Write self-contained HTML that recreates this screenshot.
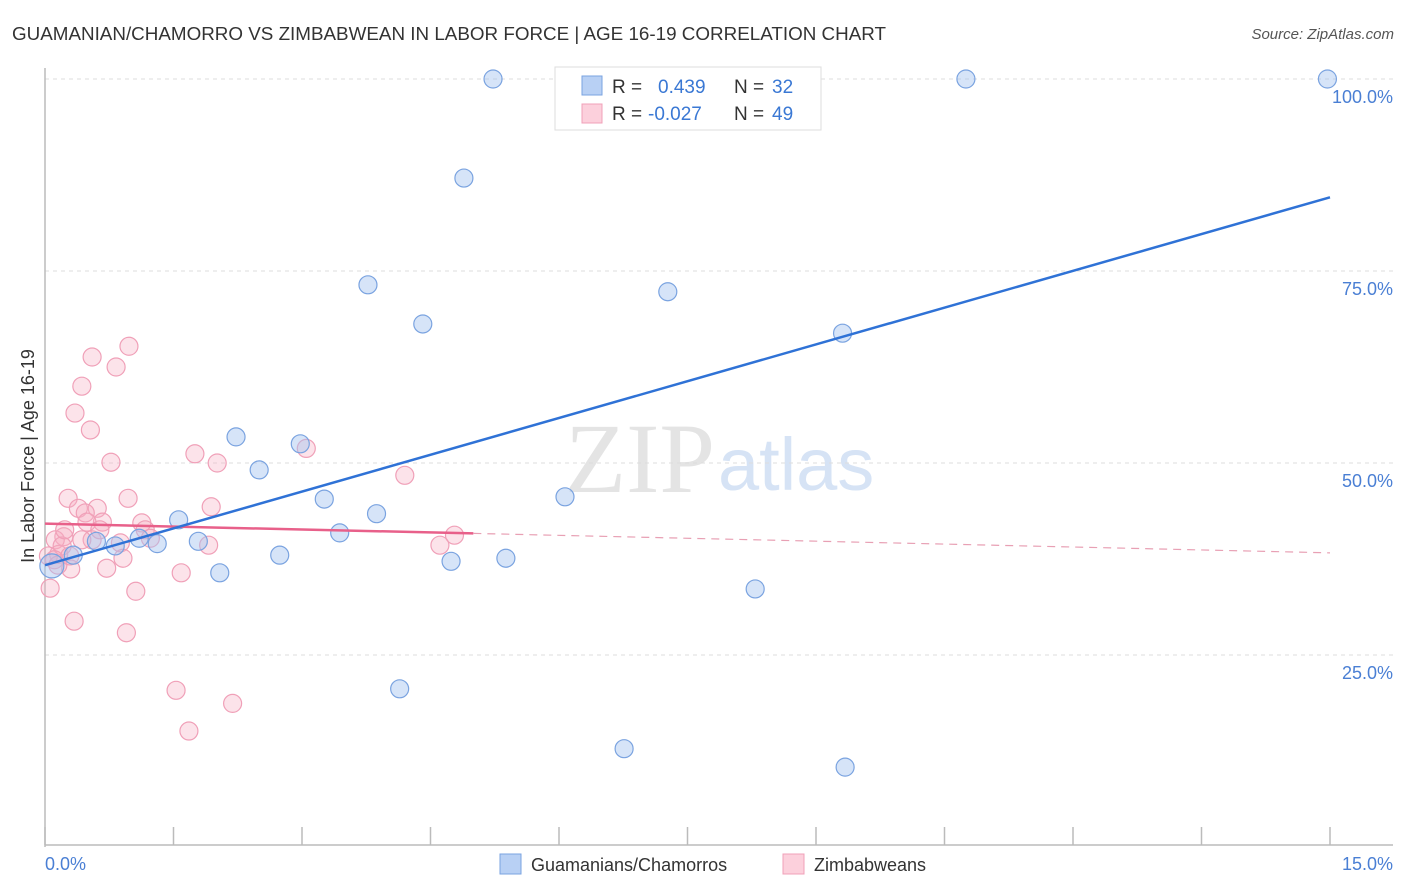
<!DOCTYPE html>
<html><head><meta charset="utf-8">
<style>
body{margin:0;background:#fff;font-family:"Liberation Sans",sans-serif;}
#wrap{position:relative;width:1406px;height:892px;overflow:hidden;}
</style></head>
<body>
<div id="wrap">
<svg id="svg" width="1406" height="892">
<text x="12" y="40" font-size="18" fill="#333" textLength="874" lengthAdjust="spacingAndGlyphs">GUAMANIAN/CHAMORRO VS ZIMBABWEAN IN LABOR FORCE | AGE 16-19 CORRELATION CHART</text>
<text x="1394" y="39" font-size="15" fill="#555" font-style="italic" text-anchor="end">Source: ZipAtlas.com</text>
<text x="715" y="492" font-size="100" fill="#e4e4e4" font-family="Liberation Serif,serif" text-anchor="end">ZIP</text>
<text x="718" y="490" font-size="74" fill="#d6e3f5">atlas</text>
<g id="grid"></g>
<line x1="45" y1="68" x2="45" y2="847" stroke="#bbb" stroke-width="1.5"/>
<line x1="45" y1="845" x2="1393" y2="845" stroke="#bbb" stroke-width="1.5"/>
<g id="xticks"></g>
<text x="45" y="870" font-size="18" fill="#4a7fd4">0.0%</text>
<text x="1393" y="870" font-size="18" fill="#4a7fd4" text-anchor="end">15.0%</text>
<text transform="translate(34,456) rotate(-90)" font-size="18" fill="#333" text-anchor="middle">In Labor Force | Age 16-19</text>
<g id="pink"></g><g id="blue"></g><g id="trends"></g>
<g>
<rect x="555" y="67" width="266" height="63" fill="#fff" stroke="#ddd"/>
<rect x="582" y="76" width="20" height="19" fill="#b8d0f4" stroke="#7aa3e0"/>
<text x="612" y="93" font-size="19" fill="#333">R =</text><text x="658" y="93" font-size="19" fill="#3a78d4">0.439</text>
<text x="734" y="93" font-size="19" fill="#333">N =</text><text x="772" y="93" font-size="19" fill="#3a78d4">32</text>
<rect x="582" y="104" width="20" height="19" fill="#fcd0dc" stroke="#f0a0b8"/>
<text x="612" y="120" font-size="19" fill="#333">R =</text><text x="648" y="120" font-size="19" fill="#3a78d4">-0.027</text>
<text x="734" y="120" font-size="19" fill="#333">N =</text><text x="772" y="120" font-size="19" fill="#3a78d4">49</text>
</g>
<g><rect x="500" y="854" width="21" height="20" fill="#b8d0f4" stroke="#7aa3e0"/><text x="531" y="871" font-size="18" fill="#333">Guamanians/Chamorros</text></g>
<g><rect x="783" y="854" width="21" height="20" fill="#fcd0dc" stroke="#f0a0b8"/><text x="814" y="871" font-size="18" fill="#333">Zimbabweans</text></g>
</svg>
</div>
<script>
const yTicks=[25,50,75,100];
const yTickLabels=["25.0%","50.0%","75.0%","100.0%"];
const blueX=[5.23,6.65,10.75,14.97,4.89,3.77,4.41,7.27,9.31,2.23,2.98,2.50,3.26,3.87,6.07,1.56,3.44,0.60,1.10,1.31,1.79,0.82,2.04,2.74,4.74,5.38,8.29,4.14,6.76,9.34,0.33,0.08];
const blueY=[100,100,100,100,87.1,73.2,68.1,72.3,66.9,53.4,52.5,49.1,45.3,43.4,45.6,42.6,40.9,39.8,40.2,39.5,39.8,39.2,35.7,38.0,37.2,37.6,33.6,20.6,12.8,10.4,38.0,36.6];
const pinkX=[0.98,0.55,0.83,0.43,0.35,0.53,0.77,1.75,2.01,3.05,4.20,0.27,0.97,1.94,0.39,0.61,0.47,0.67,1.13,0.49,0.88,1.17,0.22,0.55,0.12,4.78,4.61,1.91,0.91,0.72,0.30,0.06,1.06,1.59,0.34,0.95,1.53,2.19,1.68,0.16,0.04,0.20,0.11,0.23,0.43,0.64,1.23,0.15,0.29];
const pinkY=[65.2,63.8,62.5,60.0,56.5,54.3,50.1,51.2,50.0,51.9,48.4,45.4,45.4,44.3,44.1,44.1,43.5,42.3,42.2,42.3,39.6,41.3,40.4,40.0,40.0,40.6,39.3,39.3,37.6,36.3,36.2,33.7,33.3,35.7,29.4,27.9,20.4,18.7,15.1,38.1,37.9,39.2,37.4,41.3,40.0,41.3,40.2,36.7,37.9];
const blueTrend=[36.7,84.6];
const pinkTrend=[42.1,38.3];
const pinkSolidEnd=5.0;
const NS="http://www.w3.org/2000/svg";
const sx=v=>45+v/15*1285;
const sy=v=>847-v/100*768;
function mk(t,a,p){const e=document.createElementNS(NS,t);for(const k in a)e.setAttribute(k,a[k]);p.appendChild(e);return e;}
const grid=document.getElementById('grid');
yTicks.forEach((t,i)=>{
 const l=mk('line',{x1:45,x2:1393,y1:sy(t),y2:sy(t),stroke:'#ddd','stroke-dasharray':'4,4'},grid);
 
 
 const tx=mk('text',{x:1393,y:sy(t)+24,'font-size':18,fill:'#4a7fd4','text-anchor':'end'},grid);
 tx.textContent=yTickLabels[i];
 
 
});
const xt=document.getElementById('xticks');
for(let i=0;i<=10;i++){const l=mk('line',{x1:sx(i*1.5),x2:sx(i*1.5),y1:827,y2:845,stroke:'#bbb','stroke-width':1.5},xt);
 
 }
function pts(X,Y,g,fill,stroke,name){X.forEach((x,i)=>{const c=mk('circle',{cx:sx(x),cy:sy(Y[i]),r:(name==='blue-point'&&i===31)?12:9,fill:fill,stroke:stroke,'stroke-width':1.2},g);
 
 });}
pts(pinkX,pinkY,document.getElementById('pink'),'rgba(247,175,195,0.35)','#f0a0b8','pink-point');
pts(blueX,blueY,document.getElementById('blue'),'rgba(165,195,240,0.45)','#7aa3e0','blue-point');
const tr=document.getElementById('trends');
const pm=pinkTrend[0]+(pinkTrend[1]-pinkTrend[0])*pinkSolidEnd/15;
let a=mk('line',{x1:sx(0),y1:sy(pinkTrend[0]),x2:sx(pinkSolidEnd),y2:sy(pm),stroke:'#e8608a','stroke-width':2.5},tr);


a=mk('line',{x1:sx(pinkSolidEnd),y1:sy(pm),x2:sx(15),y2:sy(pinkTrend[1]),stroke:'#e8a0b4','stroke-width':1.2,'stroke-dasharray':'8,6'},tr);


a=mk('line',{x1:sx(0),y1:sy(blueTrend[0]),x2:sx(15),y2:sy(blueTrend[1]),stroke:'#2f72d6','stroke-width':2.5},tr);


</script>
</body></html>
